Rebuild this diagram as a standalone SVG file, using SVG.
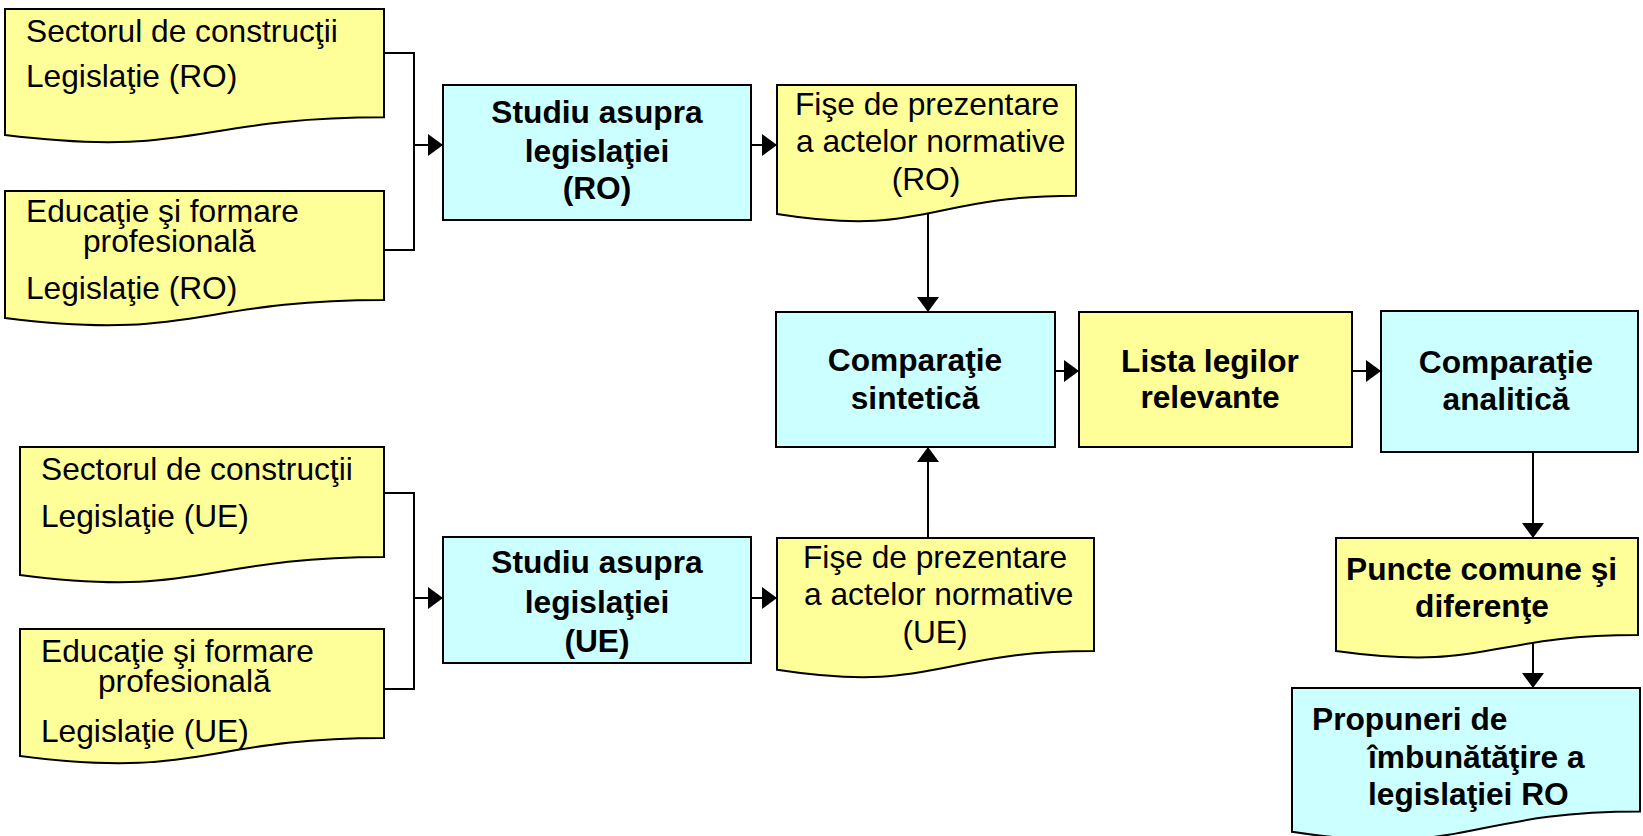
<svg xmlns="http://www.w3.org/2000/svg" width="1643" height="836" viewBox="0 0 1643 836">
<defs>
<style>
.y{fill:#FFFF99;stroke:#000;stroke-width:2}
.c{fill:#CCFFFF;stroke:#000;stroke-width:2}
text{font-family:"Liberation Sans",Arial,sans-serif;font-size:31.7px;fill:#000}
.b{font-weight:bold}
.m{text-anchor:middle}
.ln{fill:none;stroke:#000;stroke-width:2}
</style>
<marker id="ah" markerUnits="userSpaceOnUse" markerWidth="15" markerHeight="22" refX="15" refY="11" orient="auto">
<path d="M0,0 L15,11 L0,22 Z" fill="#000"/>
</marker>
</defs>
<rect width="1643" height="836" fill="#fff"/>

<g id="connectors">
<polyline class="ln" points="384,53 414,53 414,250 384,250"/>
<line class="ln" x1="414" y1="145" x2="443" y2="145" marker-end="url(#ah)"/>
<line class="ln" x1="751" y1="145" x2="777" y2="145" marker-end="url(#ah)"/>
<line class="ln" x1="928" y1="214" x2="928" y2="312" marker-end="url(#ah)"/>
<polyline class="ln" points="384,493 414,493 414,689 384,689"/>
<line class="ln" x1="414" y1="598" x2="443" y2="598" marker-end="url(#ah)"/>
<line class="ln" x1="751" y1="598" x2="777" y2="598" marker-end="url(#ah)"/>
<line class="ln" x1="928" y1="538" x2="928" y2="447" marker-end="url(#ah)"/>
<line class="ln" x1="1055" y1="371" x2="1079" y2="371" marker-end="url(#ah)"/>
<line class="ln" x1="1352" y1="371" x2="1381" y2="371" marker-end="url(#ah)"/>
<line class="ln" x1="1533" y1="452" x2="1533" y2="538" marker-end="url(#ah)"/>
<line class="ln" x1="1533" y1="642" x2="1533" y2="688" marker-end="url(#ah)"/>
</g>

<g id="doc-ro-sector">
<path class="y" d="M5,9 H384 V117.3 C194.5,117.3 194.5,158.4 5,135.1 Z"/>
<text x="26" y="42">Sectorul de construcţii</text>
<text x="26" y="87">Legislaţie (RO)</text>
</g>

<g id="doc-ro-edu">
<path class="y" d="M5,191 H384 V300.1 C194.5,300.1 194.5,341.6 5,318 Z"/>
<text x="26" y="222">Educaţie şi formare</text>
<text x="83" y="252">profesională</text>
<text x="26" y="299">Legislaţie (RO)</text>
</g>

<g id="studiu-ro">
<rect class="c" x="443" y="85" width="308" height="135"/>
<text class="b m" x="597" y="123">Studiu asupra</text>
<text class="b m" x="597" y="162">legislaţiei</text>
<text class="b m" x="597" y="199">(RO)</text>
</g>

<g id="fise-ro">
<path class="y" d="M777,85 H1076 V195.7 C926.5,195.7 926.5,237.8 777,213.9 Z"/>
<text x="795" y="115">Fişe de prezentare</text>
<text x="796" y="152">a actelor normative</text>
<text class="m" x="926" y="190">(RO)</text>
</g>

<g id="comparatie-sintetica">
<rect class="c" x="776" y="312" width="279" height="135"/>
<text class="b m" x="915" y="371">Comparaţie</text>
<text class="b m" x="915" y="409">sintetică</text>
</g>

<g id="lista-legilor">
<rect class="y" x="1079" y="312" width="273" height="135"/>
<text class="b m" x="1210" y="372">Lista legilor</text>
<text class="b m" x="1210" y="408">relevante</text>
</g>

<g id="comparatie-analitica">
<rect class="c" x="1381" y="311" width="257" height="141"/>
<text class="b m" x="1506" y="373">Comparaţie</text>
<text class="b m" x="1506" y="410">analitică</text>
</g>

<g id="doc-ue-sector">
<path class="y" d="M20,447 H384 V556.9 C202,556.9 202,598.7 20,575 Z"/>
<text x="41" y="480">Sectorul de construcţii</text>
<text x="41" y="527">Legislaţie (UE)</text>
</g>

<g id="doc-ue-edu">
<path class="y" d="M20,629 H384 V738.1 C202,738.1 202,779.6 20,756 Z"/>
<text x="41" y="662">Educaţie şi formare</text>
<text x="98" y="692">profesională</text>
<text x="41" y="742">Legislaţie (UE)</text>
</g>

<g id="studiu-ue">
<rect class="c" x="443" y="537" width="308" height="126"/>
<text class="b m" x="597" y="573">Studiu asupra</text>
<text class="b m" x="597" y="613">legislaţiei</text>
<text class="b m" x="597" y="652">(UE)</text>
</g>

<g id="fise-ue">
<path class="y" d="M777,538 H1094 V651.1 C935.5,651.1 935.5,694.1 777,669.7 Z"/>
<text x="803" y="568">Fişe de prezentare</text>
<text x="804" y="605">a actelor normative</text>
<text class="m" x="935" y="643">(UE)</text>
</g>

<g id="puncte-comune">
<path class="y" d="M1336,538 H1638 V635 C1487,635 1487,672 1336,651 Z"/>
<text class="b" x="1346" y="580">Puncte comune şi</text>
<text class="b m" x="1482" y="617">diferenţe</text>
</g>

<g id="propuneri">
<path class="c" d="M1292,688 H1640 V811.5 C1466,811.5 1466,858.5 1292,831.8 Z"/>
<text class="b" x="1312" y="730">Propuneri de</text>
<text class="b" x="1368" y="768">îmbunătăţire a</text>
<text class="b" x="1368" y="805">legislaţiei RO</text>
</g>
</svg>
